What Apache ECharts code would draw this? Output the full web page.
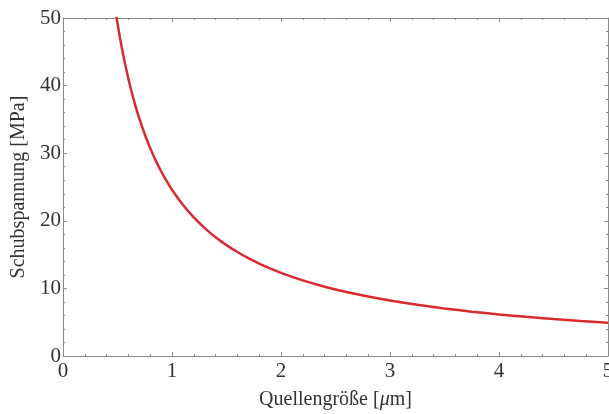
<!DOCTYPE html>
<html>
<head>
<meta charset="utf-8">
<script src="https://cdn.jsdelivr.net/npm/echarts@6/dist/echarts.min.js"></script>
<style>
  html, body { margin: 0; padding: 0; background: #fff; }
  #chart { width: 609px; height: 414px; }
</style>
</head>
<body>
<div id="chart"></div>
<script>
// Quellengröße [µm] vs. Schubspannung [MPa]
var sizes = [0.49, 0.52, 0.55, 0.58, 0.62, 0.66, 0.7, 0.75, 0.8, 0.85, 0.9, 0.95, 1.0, 1.1, 1.2, 1.3, 1.4, 1.5, 1.6, 1.7, 1.8, 1.9, 2.0, 2.2, 2.4, 2.6, 2.8, 3.0, 3.25, 3.5, 3.75, 4.0, 4.25, 4.5, 4.75, 5.0];
var stress = [50.2, 47.31, 44.73, 42.41, 39.68, 37.27, 35.14, 32.8, 30.75, 28.94, 27.33, 25.89, 24.6, 22.36, 20.5, 18.92, 17.57, 16.4, 15.38, 14.47, 13.67, 12.95, 12.3, 11.18, 10.25, 9.46, 8.79, 8.2, 7.57, 7.03, 6.56, 6.15, 5.79, 5.47, 5.18, 4.92];

var serif = "'Liberation Serif', 'DejaVu Serif', serif";
var axisGray = "#8a8a8a";

var chart = echarts.init(document.getElementById("chart"));

// frame axis (top/right) without labels
function frameAxis(pos, min, max, interval) {
  return {
    type: "value",
    position: pos,
    min: min,
    max: max,
    interval: interval,
    axisLine: { show: true, onZero: false, lineStyle: { color: axisGray, width: 1 } },
    axisTick: { show: true, inside: true, length: 4, lineStyle: { color: axisGray } },
    minorTick: { show: true, splitNumber: 5, length: 2, lineStyle: { color: axisGray } },
    axisLabel: { show: false },
    splitLine: { show: false }
  };
}

var option = {
  animation: false,
  grid: { left: 63, right: 1, top: 18, bottom: 58, outerBoundsMode: "none", containLabel: false },
  xAxis: [
    {
      type: "value",
      min: 0,
      max: 5,
      interval: 1,
      name: "Quellengröße [{mu|μ}m]",
      nameLocation: "middle",
      nameGap: 34,
      nameTextStyle: {
        fontFamily: serif, fontSize: 20, color: "#333",
        rich: { mu: { fontFamily: serif, fontStyle: "italic", fontSize: 20, color: "#333" } }
      },
      axisLine: { show: true, onZero: false, lineStyle: { color: axisGray, width: 1 } },
      axisTick: { show: true, inside: true, length: 4, lineStyle: { color: axisGray } },
      minorTick: { show: true, splitNumber: 5, length: 2, lineStyle: { color: axisGray } },
      axisLabel: { fontFamily: serif, fontSize: 21, color: "#333", margin: 5 },
      splitLine: { show: false }
    },
    frameAxis("top", 0, 5, 1)
  ],
  yAxis: [
    {
      type: "value",
      min: 0,
      max: 50,
      interval: 10,
      name: "Schubspannung [MPa]",
      nameLocation: "middle",
      nameGap: 30,
      nameTextStyle: { fontFamily: serif, fontSize: 20, color: "#333" },
      axisLine: { show: true, onZero: false, lineStyle: { color: axisGray, width: 1 } },
      axisTick: { show: true, inside: true, length: 4, lineStyle: { color: axisGray } },
      minorTick: { show: true, splitNumber: 5, length: 2, lineStyle: { color: axisGray } },
      axisLabel: { fontFamily: serif, fontSize: 21, color: "#333", margin: 2 },
      splitLine: { show: false }
    },
    frameAxis("right", 0, 50, 10)
  ],
  series: [
    {
      type: "line",
      xAxisIndex: 0,
      yAxisIndex: 0,
      data: sizes.map(function (d, i) { return [d, stress[i]]; }),
      smooth: 0.3,
      showSymbol: false,
      clip: true,
      lineStyle: { color: "#d92a2f", width: 2.5 }
    }
  ]
};

chart.setOption(option);
</script>
</body>
</html>
